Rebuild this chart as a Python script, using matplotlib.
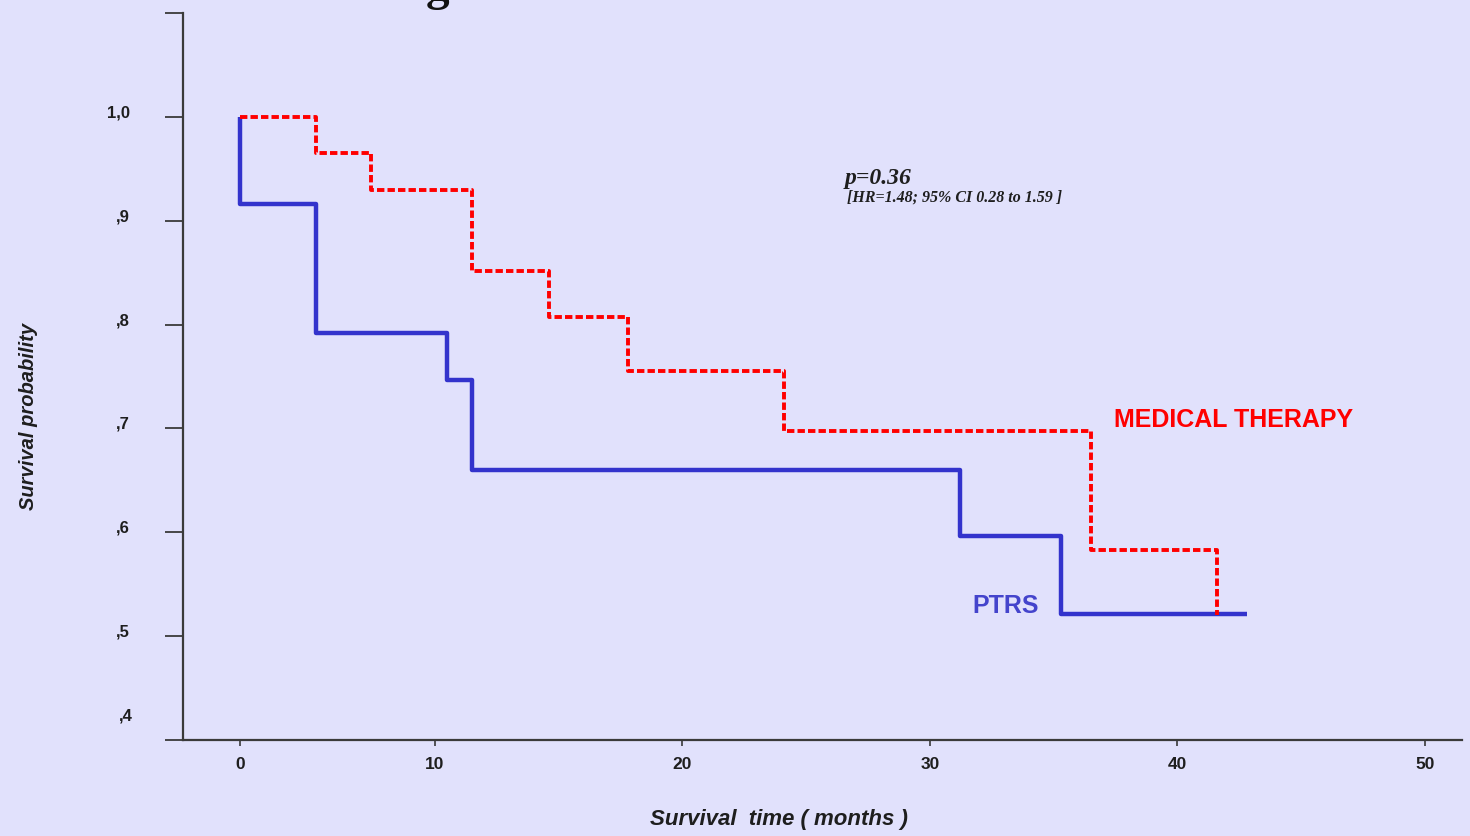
import numpy as np
import matplotlib
matplotlib.use("Agg")
import matplotlib.pyplot as plt
import matplotlib.transforms as mtransforms

# ---- data ----
ptrs_time = [0, 0, 3.9, 10.5, 11.5, 31.2, 35.3, 42.8]
ptrs_surv = [1.0, 0.916, 0.792, 0.747, 0.660, 0.596, 0.521, 0.521]

med_time = [0, 3.9, 6.7, 11.5, 14.6, 17.8, 24.1, 36.5, 41.6]
med_surv = [1.0, 0.965, 0.930, 0.852, 0.807, 0.755, 0.698, 0.583, 0.520]

x_ticks = [0, 10, 20, 30, 40, 50]
x_ticklabels = ["0", "10", "20", "30", "40", "50"]
y_ticks = [0.5, 0.6, 0.7, 0.8, 0.9, 1.0, 1.1]
y_ticklabels = [",5", ",6", ",7", ",8", ",9", "1,0", ""]

BG = "#E1E1FC"
BLUE = "#3333CC"
RED = "#FF0000"
AX = "#3a3a3a"
TXT = "#1e1e1e"

# the first 10 months are drawn compressed in the original chart
def fwd(t):
    t = np.asarray(t, dtype=float)
    return np.where(t < 10, 2.12 + 0.788 * t, t)

def inv(u):
    u = np.asarray(u, dtype=float)
    return np.where(u < 10, (u - 2.12) / 0.788, u)

fig = plt.figure(figsize=(14.7, 8.36), dpi=100, facecolor=BG)
ax = fig.add_axes([183 / 1470, 1 - 740 / 836, (1462 - 183) / 1470, (740 - 13) / 836])
ax.set_facecolor(BG)
ax.set_xscale("function", functions=(fwd, inv))
ax.set_xlim(-2.92, 51.5)
ax.set_ylim(0.4, 1.1)

ax.plot(ptrs_time, ptrs_surv, drawstyle="steps-post", color=BLUE, lw=3.2,
        solid_capstyle="butt", zorder=3)
ax.plot(med_time, med_surv, drawstyle="steps-post", color=RED, lw=2.8,
        linestyle=(0, (1.9, 0.8)), zorder=4)

for s in ["top", "right"]:
    ax.spines[s].set_visible(False)
for s in ["left", "bottom"]:
    ax.spines[s].set_color(AX)
    ax.spines[s].set_linewidth(1.6)

ax.set_xticks(x_ticks)
ax.set_xticklabels(x_ticklabels, fontsize=12.5, fontweight="bold",
                   family="Liberation Sans", color=TXT)
ax.tick_params(axis="x", length=4, width=1.2, color=AX, pad=8)
ax.xaxis.set_minor_locator(matplotlib.ticker.NullLocator())

ax.set_yticks([0.4] + y_ticks)
ax.set_yticklabels([""] + y_ticklabels, fontsize=12, fontweight="bold",
                   family="Liberation Sans", color=TXT)
ax.tick_params(axis="y", length=13, width=1.3, color=AX, pad=25)
ax.yaxis.set_minor_locator(matplotlib.ticker.NullLocator())
off = mtransforms.ScaledTranslation(0, 4 / 72, fig.dpi_scale_trans)
for lab in ax.get_yticklabels():
    lab.set_transform(lab.get_transform() + off)

fig.text(133 / 1470, 1 - 716 / 836, ",4", fontsize=12, fontweight="bold",
         family="Liberation Sans", color=TXT, ha="right", va="center")

ax.text(37.45, 0.708, "MEDICAL THERAPY", color=RED, fontsize=18,
        fontweight="bold", family="Liberation Sans", va="center", ha="left")
ax.text(31.7, 0.529, "PTRS", color="#4444CC", fontsize=18,
        fontweight="bold", family="Liberation Sans", va="center", ha="left")
ax.text(26.55, 0.935, "p=0.36", fontsize=17, fontweight="bold", style="italic",
        family="Liberation Serif", color=TXT, ha="left", va="baseline")
ax.text(26.65, 0.918, "[HR=1.48; 95% CI 0.28 to 1.59 ]", fontsize=11.5,
        fontweight="bold", style="italic", family="Liberation Serif",
        color=TXT, ha="left", va="baseline")

fig.text(28 / 1470, 1 - 416 / 836, "Survival probability", rotation=90,
         fontsize=14.5, fontweight="bold", style="italic",
         family="Liberation Sans", color=TXT, ha="center", va="center")
fig.text(779 / 1470, 1 - 820 / 836, "Survival  time ( months )",
         fontsize=16, fontweight="bold", style="italic",
         family="Liberation Sans", color=TXT, ha="center", va="center")
fig.text(468 / 1470, 1 + 0.5 / 836, "Figure 2", fontsize=34, fontweight="bold",
         family="Liberation Serif", color="#111111", ha="center",
         va="baseline")

fig.savefig("out.png", dpi=100, facecolor=BG)
